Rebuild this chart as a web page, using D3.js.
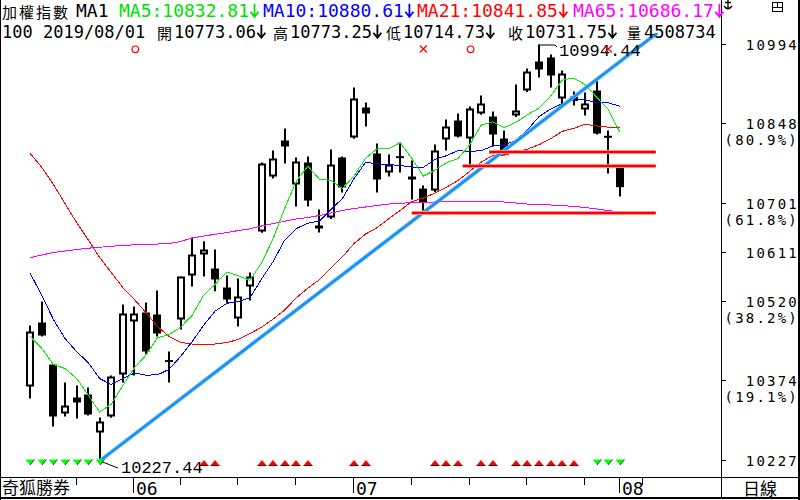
<!DOCTYPE html>
<html><head><meta charset="utf-8">
<script src="https://cdn.jsdelivr.net/npm/d3@7"></script>
<style>
html,body{margin:0;padding:0;background:#fff;}
svg{display:block;}
</style></head><body>
<svg id="c" width="800" height="500"></svg>
<script>
// ---------------- data ----------------
const dates = ["2019/05/21","2019/05/22","2019/05/23","2019/05/24","2019/05/27","2019/05/28","2019/05/29","2019/05/30","2019/05/31",
"2019/06/03","2019/06/04","2019/06/05","2019/06/06","2019/06/10","2019/06/11","2019/06/12","2019/06/13","2019/06/14",
"2019/06/17","2019/06/18","2019/06/19","2019/06/20","2019/06/21","2019/06/24","2019/06/25","2019/06/26","2019/06/27","2019/06/28",
"2019/07/01","2019/07/02","2019/07/03","2019/07/04","2019/07/05","2019/07/08","2019/07/09","2019/07/10","2019/07/11","2019/07/12",
"2019/07/15","2019/07/16","2019/07/17","2019/07/18","2019/07/19","2019/07/22","2019/07/23","2019/07/24","2019/07/25","2019/07/26",
"2019/07/29","2019/07/30","2019/07/31","2019/08/01"];
const futureDates = ["2019/08/02","2019/08/05"];

const open  = [10364.6,10482.5,10405.1,10314.9,10344.4,10349.9,10279.9,10309.4,10386.7,10484.3,10500.9,10497.2,10410.7,10488.0,10569.0,10607.7,10581.9,10546.9,10489.8,10548.8,10650.0,10751.3,10817.6,10736.6,10777.1,10661.1,10675.8,10786.3,10823.2,10878.4,10793.7,10758.7,10785.5,10745.8,10729.2,10725.5,10819.5,10854.5,10821.3,10867.4,10861.8,10821.3,10863.7,10909.7,10963.1,10970.5,10895.0,10898.7,10874.7,10909.7,10825.5,10773.06];
const high  = [10476.9,10521.1,10405.1,10372.0,10366.5,10362.8,10307.6,10384.9,10515.6,10511.9,10519.3,10541.4,10429.1,10567.2,10639.0,10632.2,10616.9,10569.0,10563.5,10574.5,10777.1,10799.2,10839.7,10786.3,10788.2,10690.6,10801.1,10788.2,10915.2,10887.6,10812.1,10791.8,10813.9,10780.8,10734.8,10810.3,10856.3,10867.4,10880.2,10900.5,10871.0,10836.1,10920.8,10950.2,10994.44,10976.0,10946.5,10907.9,10906.1,10933.7,10836.1,10773.25];
const low   = [10342.5,10456.7,10290.9,10309.4,10305.7,10311.0,10227.44,10307.0,10372.0,10384.9,10423.6,10456.7,10372.0,10469.6,10548.8,10567.2,10540.1,10518.8,10475.1,10523.0,10648.0,10747.7,10775.3,10696.1,10696.1,10648.2,10673.0,10721.9,10821.0,10843.4,10721.9,10751.3,10758.7,10709.0,10685.0,10723.0,10799.2,10823.0,10773.4,10865.0,10806.6,10790.0,10861.0,10907.0,10933.7,10915.2,10883.9,10882.1,10863.7,10828.7,10756.9,10714.73];
const close = [10465.9,10458.5,10309.4,10329.6,10335.2,10313.1,10300.2,10383.0,10499.1,10499.1,10429.1,10462.2,10411.5,10567.2,10607.7,10616.9,10561.7,10524.8,10530.4,10567.2,10775.3,10784.5,10806.6,10779.0,10707.1,10655.6,10773.4,10731.1,10895.0,10867.4,10745.8,10773.4,10787.0,10751.3,10703.5,10799.2,10843.4,10825.0,10876.6,10885.8,10828.7,10791.8,10872.9,10944.7,10948.4,10937.3,10941.0,10891.3,10885.8,10830.5,10824.5,10731.75];

const ma5Head  = [10456.7,10434.6,10405.1,10397.7];
const ma10Head = [10572.7,10532.2,10488.0,10453.0,10429.1,10408.8,10379.3,10368.3,10379.3];
const ma21Head = [10793.7,10767.9,10736.6,10701.6,10666.7,10635.3,10602.2,10574.5,10546.9,10524.8,10500.9,10475.1,10456.7,10445.7,10442.9,10442.0,10442.9,10445.7,10451.2,10462.2];
const ma65 = [10602.2,10606.8,10611.4,10614.1,10616.9,10619.3,10621.1,10622.8,10624.3,10625.6,10626.1,10627.0,10627.9,10631.6,10638.1,10641.8,10644.9,10648.2,10651.9,10655.0,10660.2,10664.8,10668.8,10673.1,10675.8,10679.5,10684.1,10688.7,10692.4,10695.2,10697.9,10700.7,10702.2,10703.1,10703.8,10704.4,10704.7,10705.3,10705.3,10705.7,10705.3,10704.4,10702.5,10700.7,10699.4,10698.9,10697.9,10696.1,10694.3,10691.5,10688.7,10686.17];

const fibRatios      = [1, 0.809, 0.618, 0.5, 0.382, 0.191, 0];
const fibTickLabels  = ["10994","10848","10701","10611","10520","10374","10227"];
const fibPctLabels   = ["","(80.9%)","(61.8%)","","(38.2%)","(19.1%)",""];

const upSignals   = [15,16,20,21,22,23,24,28,29,35,36,37,39,40,42,43,44,45,46,47];
const downSignals = [0,1,2,3,4,5,6,49,50,51];
const circleMarks = [9,38];
const crossMarks  = [34,50];
const supportLines = [{start:33.0, value:10684.5},{start:37.4, value:10771.6},{start:39.7, value:10795.6}];
const supportEnd = 54.1;
const trendAnchors = [6,34];

const title = "加權指數";
const periodLabel = "MA1";
const maLegend = [["MA5","10832.81"],["MA10","10880.61"],["MA21","10841.85"],["MA65","10686.17"]];
const quoteHead = "100 2019/08/01";
const quoteItems = [["開","10773.06"],["高","10773.25"],["低","10714.73"],["收","10731.75"],["量","4508734"]];
const brandLabel = "奇狐勝券";
const periodName = "日線";

// ---------------- drawing ----------------
const svg = d3.select("#c");
const MONO = "'DejaVu Sans Mono',monospace";
const SERIFMONO = "'Liberation Mono','DejaVu Sans Mono',monospace";
const CJK = "'Noto Sans CJK TC'";

const x = d3.scaleLinear().domain([0, dates.length - 1]).range([30.3, 619.9]);
const loV = d3.min(low), hiV = d3.max(high);
const y = d3.scaleLinear().domain([loV, hiV]).range([461, 44.5]);
const X = i => Math.round(x(i));

svg.append("rect").attr("width",800).attr("height",500).attr("fill","#fff");

const defs = svg.append("defs");
defs.append("clipPath").attr("id","plot").append("rect").attr("x",1).attr("y",33).attr("width",720).attr("height",444);

const plot = svg.append("g").attr("clip-path","url(#plot)");

// candles
const bars = dates.map((d,i)=>({i,o:open[i],h:high[i],l:low[i],c:close[i]}));
const cg = plot.append("g");
bars.forEach(b=>{
  const cx = X(b.i);
  cg.append("line").attr("x1",cx).attr("x2",cx).attr("y1",y(b.h)).attr("y2",y(b.l))
    .attr("stroke","#000").attr("stroke-width",2);
  const top = y(Math.max(b.o,b.c)), bot = y(Math.min(b.o,b.c));
  if (Math.abs(b.o-b.c) < 2) {
    cg.append("line").attr("x1",cx-4).attr("x2",cx+4).attr("y1",y(b.c)).attr("y2",y(b.c))
      .attr("stroke","#000").attr("stroke-width",2);
  } else if (b.c > b.o) {
    cg.append("rect").attr("x",cx-3).attr("y",top+1).attr("width",6).attr("height",Math.max(bot-top-2,0.5))
      .attr("fill","#fff").attr("stroke","#000").attr("stroke-width",2);
  } else {
    cg.append("rect").attr("x",cx-4).attr("y",top).attr("width",8).attr("height",Math.max(bot-top,2))
      .attr("fill","#000");
  }
});

// moving averages
function rolling(n, head){
  return close.map((c,i)=> i < head.length ? head[i] : d3.mean(close.slice(i-n+1,i+1)));
}
const maSeries = [
  {v: ma65, color:"#ff00ff"},
  {v: rolling(21, ma21Head), color:"#ff0000"},
  {v: rolling(10, ma10Head), color:"#0000ff"},
  {v: rolling(5, ma5Head), color:"#00f000"}
];
const line = d3.line().x((d,i)=>x(i)).y(d=>y(d));
maSeries.forEach(s=>{
  plot.append("path").attr("d",line(s.v)).attr("fill","none").attr("stroke",s.color)
    .attr("stroke-width",1).attr("shape-rendering","crispEdges");
});

// trend line through two lows, extended to top of plot
const [a0,a1] = trendAnchors;
const slope = (low[a1]-low[a0])/(a1-a0);
const topVal = y.invert(33);
const tEnd = a0 + (topVal - low[a0]) / slope;
plot.append("line").attr("x1",x(a0)).attr("y1",y(low[a0])).attr("x2",x(tEnd)).attr("y2",y(topVal))
  .attr("stroke","#63b8f5").attr("stroke-width",4);
plot.append("line").attr("x1",x(a0)).attr("y1",y(low[a0])).attr("x2",x(tEnd)).attr("y2",y(topVal))
  .attr("stroke","#1a8ff0").attr("stroke-width",2.2);

// support lines
supportLines.forEach(s=>{
  const yy = Math.round(y(s.value));
  plot.append("line").attr("x1",x(s.start)).attr("x2",x(supportEnd)).attr("y1",yy).attr("y2",yy)
    .attr("stroke","#ff8a8a").attr("stroke-width",4);
  plot.append("line").attr("x1",x(s.start)).attr("x2",x(supportEnd)).attr("y1",yy).attr("y2",yy)
    .attr("stroke","#ff0000").attr("stroke-width",2);
});

// high / low labels
const hiI = high.indexOf(hiV), loI = low.indexOf(loV);
{
  const hx = X(hiI), hy = Math.round(y(hiV));
  svg.append("path").attr("d",`M${hx},${hy+6}V${hy}H${hx+16}L${hx+18},${hy+2}`)
    .attr("fill","none").attr("stroke","#000").attr("stroke-width",1);
  svg.append("text").attr("x",hx+20).attr("y",hy+11).attr("font-family",SERIFMONO).attr("font-size",17)
    .attr("fill","#000").text(hiV.toFixed(2));
  const lx = X(loI), ly = y(loV);
  svg.append("line").attr("x1",lx).attr("y1",ly).attr("x2",lx+18).attr("y2",ly+7)
    .attr("stroke","#000").attr("stroke-width",1);
  svg.append("text").attr("x",lx+21).attr("y",ly+12).attr("font-family",SERIFMONO).attr("font-size",17)
    .attr("fill","#000").text(loV.toFixed(2));
}

// signal markers at top
circleMarks.forEach(i=>{
  svg.append("circle").attr("cx",x(i)+1).attr("cy",49.3).attr("r",3.3)
    .attr("fill","none").attr("stroke","#ff0000").attr("stroke-width",1.2);
});
crossMarks.forEach(i=>{
  const cx = x(i);
  svg.append("path").attr("d",`M${cx-3.5},${45.5}L${cx+3.5},${52.5}M${cx+3.5},${45.5}L${cx-3.5},${52.5}`)
    .attr("stroke","#ff0000").attr("stroke-width",1.2);
});

// bottom signal triangles
downSignals.forEach(i=>{
  const cx = X(i);
  svg.append("path").attr("d",`M${cx-4.5},459.5L${cx+4.5},459.5L${cx},465Z`).attr("fill","#00ff00");
  svg.append("path").attr("d",`M${cx+4.5},459.5L${cx},465`).attr("stroke","#006000").attr("stroke-width",1);
});
upSignals.forEach(i=>{
  const cx = X(i);
  svg.append("path").attr("d",`M${cx-4.5},465.5L${cx},460L${cx+4.5},465.5Z`).attr("fill","#ff0000");
  svg.append("line").attr("x1",cx-4.5).attr("x2",cx+4.5).attr("y1",465.5).attr("y2",465.5)
    .attr("stroke","#600000").attr("stroke-width",1);
});

// frame
svg.append("line").attr("x1",0.5).attr("x2",0.5).attr("y1",0).attr("y2",500).attr("stroke","#000");
svg.append("line").attr("x1",721.5).attr("x2",721.5).attr("y1",0).attr("y2",497).attr("stroke","#000");
svg.append("rect").attr("x",798).attr("y",0).attr("width",2).attr("height",500).attr("fill","#000");
svg.append("line").attr("x1",0).attr("x2",800).attr("y1",477.5).attr("y2",477.5).attr("stroke","#000");
svg.append("rect").attr("x",0).attr("y",497).attr("width",800).attr("height",2).attr("fill","#000");

// right axis (fibonacci levels)
fibRatios.forEach((r,k)=>{
  const v = loV + r*(hiV-loV);
  const ty = Math.round(y(v)) - 0.5;
  svg.append("line").attr("x1",721).attr("x2",726).attr("y1",ty).attr("y2",ty).attr("stroke","#000");
  svg.append("text").attr("x",799).attr("y",ty+5).attr("text-anchor","end")
    .attr("font-family",MONO).attr("font-size",14).attr("letter-spacing",2.2).attr("fill","#000")
    .text(fibTickLabels[k]);
  if (fibPctLabels[k]) {
    svg.append("text").attr("x",799).attr("y",ty+21.5).attr("text-anchor","end")
      .attr("font-family",MONO).attr("font-size",14).attr("letter-spacing",2.2).attr("fill","#000")
      .text(fibPctLabels[k]);
  }
});

// bottom time axis
const parse = d3.timeParse("%Y/%m/%d");
const allDates = dates.concat(futureDates).map(parse);
svg.append("text").attr("x",2).attr("y",494).attr("font-family",CJK).attr("font-size",17)
  .attr("fill","#000").text(brandLabel);
allDates.forEach((d,i)=>{
  if (i===0) return;
  const p = allDates[i-1];
  const tx = X(i) - 0.5;
  if (d.getMonth() !== p.getMonth()) {
    svg.append("line").attr("x1",tx).attr("x2",tx).attr("y1",478).attr("y2",493).attr("stroke","#000");
    svg.append("text").attr("x",tx+2.5).attr("y",495).attr("font-family",MONO).attr("font-size",18)
      .attr("fill","#000").text(d3.timeFormat("%m")(d));
  } else if (d.getDay() < p.getDay() || (d - p) > 6*864e5) {
    svg.append("line").attr("x1",tx).attr("x2",tx).attr("y1",478).attr("y2",485).attr("stroke","#000");
  }
});
svg.append("text").attr("x",760).attr("y",495).attr("text-anchor","middle")
  .attr("font-family",CJK).attr("font-size",17).attr("fill","#000").text(periodName);

// header
const R1 = 16.8, R2 = 37.7;
function arrow(cx, base, color){
  svg.append("path").attr("d",`M${cx},${base-13}V${base}M${cx-4},${base-5}L${cx},${base}L${cx+4},${base-5}`)
    .attr("fill","none").attr("stroke",color).attr("stroke-width",1.8);
}
svg.append("text").attr("x",2).attr("y",17.5).attr("font-family",CJK).attr("font-size",15)
  .attr("letter-spacing",2).attr("fill","#000").text(title);
svg.append("text").attr("x",76).attr("y",R1).attr("font-family",MONO).attr("font-size",18).attr("fill","#000").text(periodLabel);
const maX = [119,263,417,573];
maLegend.forEach((m,k)=>{
  const col = maSeries[3-k].color === "#00f000" ? "#00e000" : maSeries[3-k].color;
  const t = svg.append("text").attr("x",maX[k]).attr("y",R1).attr("font-family",MONO).attr("font-size",18)
    .attr("fill",col).text(`${m[0]}:${m[1]}`);
  const len = t.node().getComputedTextLength();
  arrow(maX[k] + len + 5.5, R1, col);
});
svg.append("text").attr("x",2).attr("y",R2).attr("font-family",MONO).attr("font-size",17).attr("fill","#000").text(quoteHead);
const qX = [157,273,386,508,627];
quoteItems.forEach((q,k)=>{
  svg.append("text").attr("x",qX[k]).attr("y",k === quoteItems.length-1 ? 37.7 : 38.6)
    .attr("font-family",CJK).attr("font-size",k === quoteItems.length-1 ? 14 : 15).attr("fill","#000").text(q[0]);
  const t = svg.append("text").attr("x",qX[k]+17).attr("y",R2).attr("font-family",MONO).attr("font-size",17)
    .attr("fill","#000").text(q[1]);
  if (k < quoteItems.length-1) arrow(qX[k] + 17 + t.node().getComputedTextLength() + 5.5, R2, "#000");
});

// top-right icons
svg.append("path").attr("d","M728,0V9M725,2.5H731M724,6Q728,11.5 732,6").attr("fill","none").attr("stroke","#000").attr("stroke-width",1.3);
svg.append("rect").attr("x",772.5).attr("y",2.5).attr("width",10).attr("height",9).attr("fill","none").attr("stroke","#000");
svg.append("path").attr("d","M772.5,7.5H782.5M777.5,2.5V7.5").attr("fill","none").attr("stroke","#000");
</script>
</body></html>
